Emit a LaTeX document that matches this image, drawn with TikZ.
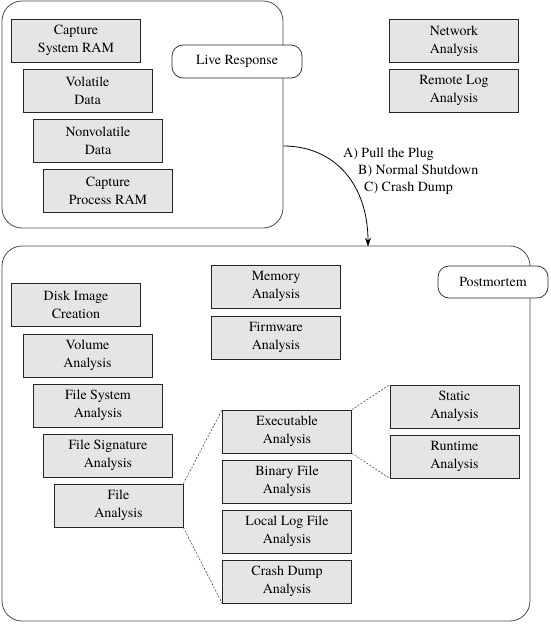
\documentclass[tikz,border=0pt]{standalone}
\usepackage{fontspec}
\setmainfont{TeX Gyre Termes}
\usetikzlibrary{arrows.meta}
\begin{document}
\begin{tikzpicture}[x=1pt,y=-1pt,
  outerbox/.style={draw=black!70,line width=0.8pt,rounded corners=20pt,minimum width=#1,inner sep=0pt},
  tagbox/.style={draw=black!85,line width=0.7pt,fill=white,rounded corners=11pt,inner sep=0pt,font=\fontsize{14}{18}\selectfont},
  itembox/.style={draw=black!85,line width=0.7pt,fill=black!10,minimum width=129pt,minimum height=43pt,inner sep=0pt,align=center,font=\fontsize{14}{18}\selectfont},
  lbl/.style={anchor=base west,inner sep=0pt,font=\fontsize{14}{18}\selectfont},
  zoomline/.style={draw=black!80,line width=0.5pt,dash pattern=on 2pt off 1.5pt}]
\useasboundingbox (0,0) rectangle (550,640);
% outer regions
\node[outerbox=281pt,minimum height=227pt] (live) at (142.5,114.5) {};
\node[outerbox=528pt,minimum height=375pt] (pm) at (266,433.5) {};
% tags
\node[tagbox,minimum width=130pt,minimum height=33pt] (livetag) at (237,61.5) {Live Response};
\node[tagbox,minimum width=110pt,minimum height=32pt] (pmtag) at (493,282) {Postmortem};
% live response items
\node[itembox] (csr) at (76,40.5) {Capture\\System RAM};
\node[itembox] (vol) at (87.5,90.5) {Volatile\\Data};
\node[itembox] (nonvol) at (98,140.5) {Nonvolatile\\Data};
\node[itembox] (cpr) at (108,190.5) {Capture\\Process RAM};
\node[itembox] (net) at (454,41) {Network\\Analysis};
\node[itembox] (rlog) at (454,90.5) {Remote Log\\Analysis};
% postmortem items
\node[itembox] (disk) at (76,305) {Disk Image\\Creation};
\node[itembox] (volume) at (87.5,355.5) {Volume\\Analysis};
\node[itembox] (fs) at (98,405.5) {File System\\Analysis};
\node[itembox] (fsig) at (108,455.5) {File Signature\\Analysis};
\node[itembox] (file) at (118.5,505.5) {File\\Analysis};
\node[itembox] (mem) at (276,286.5) {Memory\\Analysis};
\node[itembox] (fw) at (276,337.5) {Firmware\\Analysis};
\node[itembox] (exe) at (287,431.5) {Executable\\Analysis};
\node[itembox] (bin) at (287,481.5) {Binary File\\Analysis};
\node[itembox] (llf) at (287,531.5) {Local Log File\\Analysis};
\node[itembox] (cdump) at (287,581.5) {Crash Dump\\Analysis};
\node[itembox] (static) at (454.5,406.5) {Static\\Analysis};
\node[itembox] (runtime) at (454.5,456.5) {Runtime\\Analysis};
% zoom lines
\draw[zoomline] (file.north east) -- (exe.north west);
\draw[zoomline] (file.south east) -- (cdump.south west);
\draw[zoomline] (exe.north east) -- (static.north west);
\draw[zoomline] (exe.south east) -- (runtime.south west);
% transition arrow
\draw[black,line width=0.8pt,-{Stealth[length=9pt,width=6pt]}]
  ([yshift=-31.5pt]live.east) .. controls (335,146) and (368,185) .. ([xshift=102pt,yshift=-1pt]pm.north);
\node[lbl] (la) at (343,157) {A) Pull the Plug};
\node[lbl] (lb) at (358,174) {B) Normal Shutdown};
\node[lbl] (lc) at (364,191) {C) Crash Dump};
\end{tikzpicture}
\end{document}
